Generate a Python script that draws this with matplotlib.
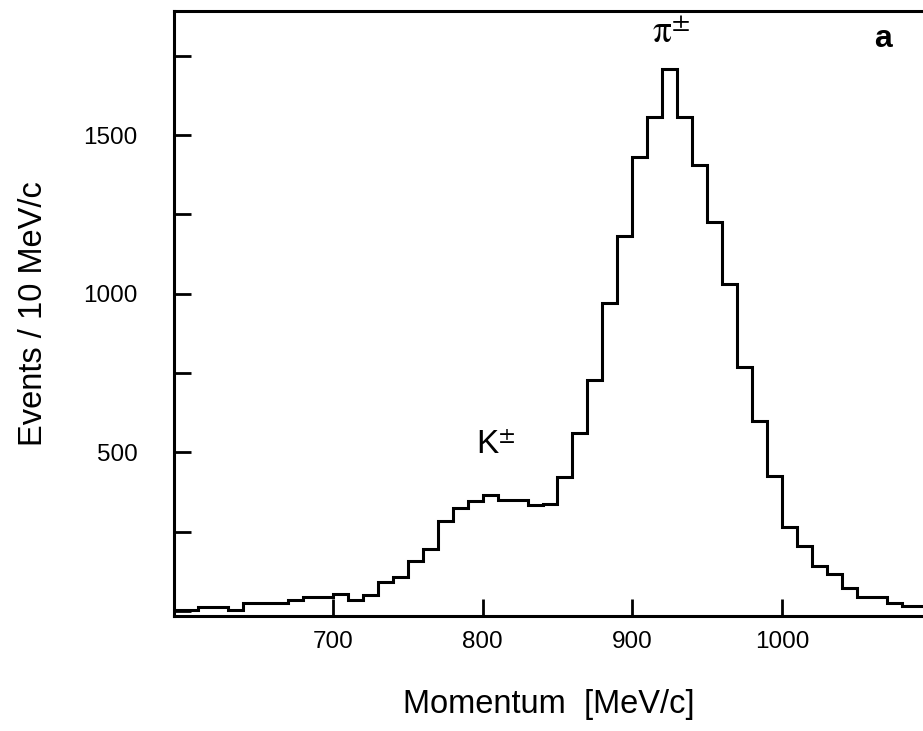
import numpy as np
import matplotlib
matplotlib.use('Agg')
import matplotlib.pyplot as plt

plt.rcParams['font.family'] = ['Liberation Sans', 'DejaVu Sans']
plt.rcParams['mathtext.fontset'] = 'stix'

# bin edges (MeV/c) and counts per 10 MeV/c bin
bin_edges = np.arange(590, 1101, 10)
counts = [3, 3, 12, 12, 2, 25, 25, 25, 35, 44,
          44, 53, 35, 50, 92, 108, 158, 195, 282, 325,
          345, 365, 350, 350, 335, 338, 421, 561, 728, 970,
          1183, 1432, 1558, 1708, 1558, 1406, 1227, 1032, 770, 599,
          426, 266, 205, 142, 116, 72, 45, 45, 24, 14, 14]

x_ticks = [700, 800, 900, 1000]
y_ticks = [0, 250, 500, 750, 1000, 1250, 1500, 1750]
y_labels = ['', '', '500', '', '1000', '', '1500', '']

fig = plt.figure(figsize=(9.23, 7.31), dpi=100)
ax = fig.add_axes([0.1885, 0.1573, 0.8115, 0.8277])

ax.stairs(counts, bin_edges, color='black', linewidth=2.2)

ax.set_xlim(594, 1094)
ax.set_ylim(-16, 1891)

ax.set_xticks(x_ticks)
ax.set_yticks(y_ticks)
ax.set_yticklabels(y_labels)
ax.tick_params(axis='both', direction='in', length=12, width=2, labelsize=17.5)
ax.tick_params(axis='x', pad=11)
ax.tick_params(axis='y', pad=26)

for s in ['left', 'bottom', 'top']:
    ax.spines[s].set_linewidth(2.2)
ax.spines['right'].set_visible(False)

ax.set_xlabel('Momentum  [MeV/c]', fontsize=23.5, labelpad=26)
ax.set_ylabel('Events / 10 MeV/c', fontsize=23.5, labelpad=25)

ax.text(809, 523, r'K$^{\pm}$', fontsize=24, ha='center', va='center')
ax.text(926, 1822, r'$\mathrm{\pi}^{\pm}$', fontsize=27, ha='center', va='center')
ax.text(1067, 1803, 'a', fontsize=23, fontweight='bold', ha='center', va='center')

fig.savefig('out.png', dpi=100)
